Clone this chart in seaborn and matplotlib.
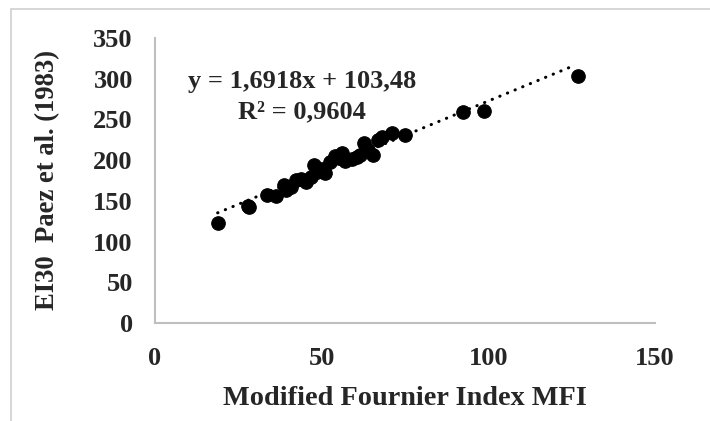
import numpy as np
import pandas as pd
import matplotlib
matplotlib.use("Agg")
import matplotlib.pyplot as plt
import seaborn as sns

# MFI vs EI30 values
mfi = [18.8, 27.8, 28.3, 33.7, 36.2, 38.7, 39.2, 40.9, 42.2, 43.7, 45.3,
       46.7, 47.7, 48.7, 50.1, 51.1, 52.6, 53.9, 55.1, 56.1, 57.1, 59.1,
       60.6, 61.6, 62.6, 64.0, 65.3, 67.0, 68.1, 71.0, 75.1, 92.4, 98.8, 126.8]
ei30 = [122.5, 143.7, 142.1, 157.2, 156.0, 169.5, 163.4, 167.0, 175.7, 176.5,
        173.0, 179.7, 194.1, 186.0, 189.0, 183.9, 198.0, 205.2, 203.0, 208.5,
        199.0, 201.0, 204.0, 206.4, 220.8, 213.0, 206.4, 225.0, 228.9, 233.0,
        231.0, 259.6, 260.8, 303.4]

# trendline as printed on the chart
slope = 1.6918
intercept = 103.48
eq_text = "y = 1,6918x + 103,48"
r2_text = "R² = 0,9604"

df = pd.DataFrame({"MFI": mfi, "EI30": ei30})

sns.set_style("white")
plt.rcParams["font.family"] = ["Liberation Serif", "DejaVu Serif"]
plt.rcParams["font.weight"] = "bold"

fig = plt.figure(figsize=(7.1, 4.21), dpi=100)
ax = fig.add_axes([155 / 710, 98 / 421, 500 / 710, 285 / 421])

# light frame of the chart area (top and left only visible)
fig.add_artist(plt.Line2D([11 / 710, 1.0], [1 - 9 / 421, 1 - 9 / 421],
                          color="#d0d0d0", lw=1.2, transform=fig.transFigure))
fig.add_artist(plt.Line2D([11 / 710, 11 / 710], [0, 1 - 9 / 421],
                          color="#d0d0d0", lw=1.2, transform=fig.transFigure))

sns.scatterplot(data=df, x="MFI", y="EI30", ax=ax, color="black",
                edgecolor="black", s=95, zorder=3, legend=False)

xs = np.array([min(mfi), max(mfi) - 1.5])
ax.plot(xs, slope * xs + intercept, color="black", lw=2.2,
        linestyle=(0, (0.1, 2.6)), dash_capstyle="round", zorder=2)

ax.set_xlim(0, 150)
ax.set_ylim(0, 350)
ax.set_xticks([0, 50, 100, 150])
ax.set_yticks(range(0, 351, 50))
ax.tick_params(axis="both", length=0, labelsize=19)
ax.tick_params(axis="y", pad=16)
ax.tick_params(axis="x", pad=17)
for lab in ax.get_xticklabels() + ax.get_yticklabels():
    lab.set_fontweight("bold")

for side in ["top", "right"]:
    ax.spines[side].set_visible(False)
for side in ["left", "bottom"]:
    ax.spines[side].set_color("#bfbfbf")
    ax.spines[side].set_linewidth(1.5)

ax.set_xlabel("Modified Fournier Index MFI", fontsize=20.3, fontweight="bold", labelpad=12)
ax.set_ylabel("EI30  Paez et al. (1983)", fontsize=19.2, fontweight="bold", labelpad=24)

ax.text(44, 297, eq_text, fontsize=19, fontweight="bold", ha="center", va="center")
ax.text(44, 259, r2_text, fontsize=19, fontweight="bold", ha="center", va="center")

fig.savefig("out.png", dpi=100, facecolor="white")
